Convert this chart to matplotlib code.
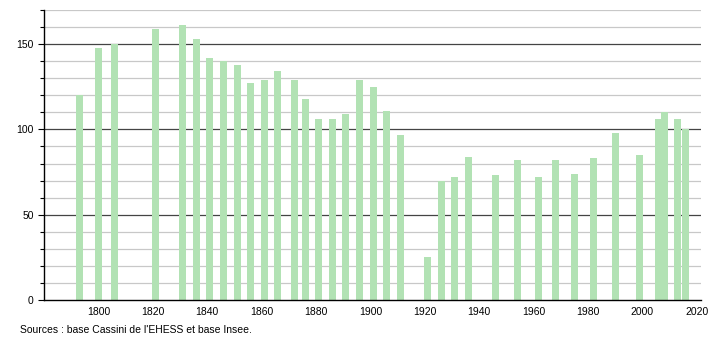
import matplotlib
matplotlib.use("Agg")
import matplotlib.pyplot as plt

years = [1793, 1800, 1806, 1821, 1831, 1836, 1841, 1846, 1851, 1856, 1861, 1866,
         1872, 1876, 1881, 1886, 1891, 1896, 1901, 1906, 1911, 1921, 1926, 1931,
         1936, 1946, 1954, 1962, 1968, 1975, 1982, 1990, 1999, 2006, 2008, 2013, 2016]
population = [120, 148, 150, 159, 161, 153, 142, 140, 138, 127, 129, 134,
              129, 118, 106, 106, 109, 129, 125, 111, 97, 25, 70, 72,
              84, 73, 82, 72, 82, 74, 83, 98, 85, 106, 110, 106, 100]
x_ticks = [1800, 1820, 1840, 1860, 1880, 1900, 1920, 1940, 1960, 1980, 2000, 2020]
y_major = [0, 50, 100, 150]
source_text = "Sources : base Cassini de l'EHESS et base Insee."

plt.rcParams['font.family'] = ['Liberation Sans', 'DejaVu Sans']

fig = plt.figure(figsize=(7.10, 3.40), dpi=100)
ax = fig.add_axes([0.062, 0.1176, 0.925, 0.853])

ax.set_xlim(1780, 2021.5)
ax.set_ylim(0, 170)

# gridlines
for v in range(10, 171, 10):
    if v % 50 == 0:
        ax.axhline(v, color='#444444', lw=0.9, zorder=0)
    else:
        ax.axhline(v, color='#c8c8c8', lw=0.9, zorder=0)

ax.bar(years, population, width=2.6, color='#b2e2b4', edgecolor='none', zorder=2)

ax.set_xticks(x_ticks)
ax.set_xticklabels([str(t) for t in x_ticks])
ax.set_yticks(y_major)
ax.set_yticks(range(0, 171, 10), minor=True)
ax.tick_params(axis='x', length=0, labelsize=7.5, pad=5)
ax.tick_params(axis='y', which='major', length=4, labelsize=7.5, width=0.8)
ax.tick_params(axis='y', which='minor', length=3, width=0.8)

for s in ['top', 'right']:
    ax.spines[s].set_visible(False)
ax.spines['left'].set_color('black')
ax.spines['bottom'].set_color('black')
ax.spines['left'].set_linewidth(1.0)
ax.spines['bottom'].set_linewidth(1.0)

fig.text(20 / 710, 1 - 330 / 340, source_text, fontsize=7.5, va='center', ha='left')

fig.savefig("out.png", dpi=100)
